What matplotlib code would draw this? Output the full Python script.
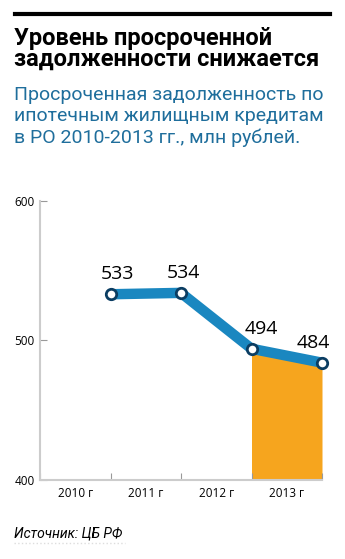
import matplotlib.pyplot as plt

# data
years = ['2010 г', '2011 г', '2012 г', '2013 г']
values = [533, 534, 494, 484]      # at the end of each year
yticks = [400, 500, 600]

W, H = 345, 559
fig = plt.figure(figsize=(W / 100, H / 100), dpi=100)
plt.rcParams['font.family'] = ['Roboto', 'DejaVu Sans']


def px(x, y):
    return x / W, 1 - y / H


# top rule and headings
fig.add_artist(plt.Line2D([15 / W, 330 / W], [1 - 14 / H] * 2, color='black', lw=3))
fig.text(*px(14, 27), 'Уровень просроченной\nзадолженности снижается',
         fontsize=17, fontweight='bold', va='top', linespacing=0.85)
fig.text(*px(14, 86), 'Просроченная задолженность по\nипотечным жилищным кредитам\n'
         'в РО 2010-2013 гг., млн рублей.',
         fontsize=14, color='#1f6e9c', va='top', linespacing=1.24)

ax = fig.add_axes([40 / W, 79 / H, 282 / W, 279.3 / H])
x = [i + 1 for i in range(len(values))]

ax.fill_between(x[2:], values[2:], 400, color='#f6a51e', lw=0, zorder=1)
ax.plot(x, values, color='#1a87c0', lw=7.5, solid_capstyle='butt', zorder=2,
        marker='o', markersize=7.5, markerfacecolor='white',
        markeredgecolor='#0b3d62', markeredgewidth=2, clip_on=False)
dx = [5, 1.5, 7, -6.5]
for xi, v, d in zip(x, values, dx):
    ax.annotate(str(v), (xi, v), xytext=(d, 8), textcoords='offset points',
                ha='center', va='bottom', fontsize=14, family='Open Sans')

ax.set_xlim(0, 4)
ax.set_ylim(400, 600)
ax.set_yticks(yticks)
ax.set_xticks(range(0, 5))
ax.set_xticklabels([])
ax.set_xticks([i + 0.5 for i in range(4)], minor=True)
ax.set_xticklabels(years, minor=True, fontsize=8.5, family='Open Sans')
ax.tick_params(axis='x', which='minor', length=0, pad=5)
ax.tick_params(axis='x', which='major', direction='in', length=5, color='#999999')
ax.tick_params(axis='y', direction='in', length=5, color='#999999', labelsize=8.5, pad=4)
for lab in ax.get_yticklabels():
    lab.set_family('Open Sans')

for s in ['top', 'right']:
    ax.spines[s].set_visible(False)
for s in ['left', 'bottom']:
    ax.spines[s].set_color('#cccccc')
    ax.spines[s].set_linewidth(1.5)

fig.text(*px(14, 537.7), 'Источник: ЦБ РФ', fontsize=10, style='italic', va='baseline')
fig.add_artist(plt.Line2D([14 / W, 125 / W], [1 - 543 / H] * 2, color='#dddddd', lw=1, ls=':'))

fig.savefig('out.png', dpi=100)
